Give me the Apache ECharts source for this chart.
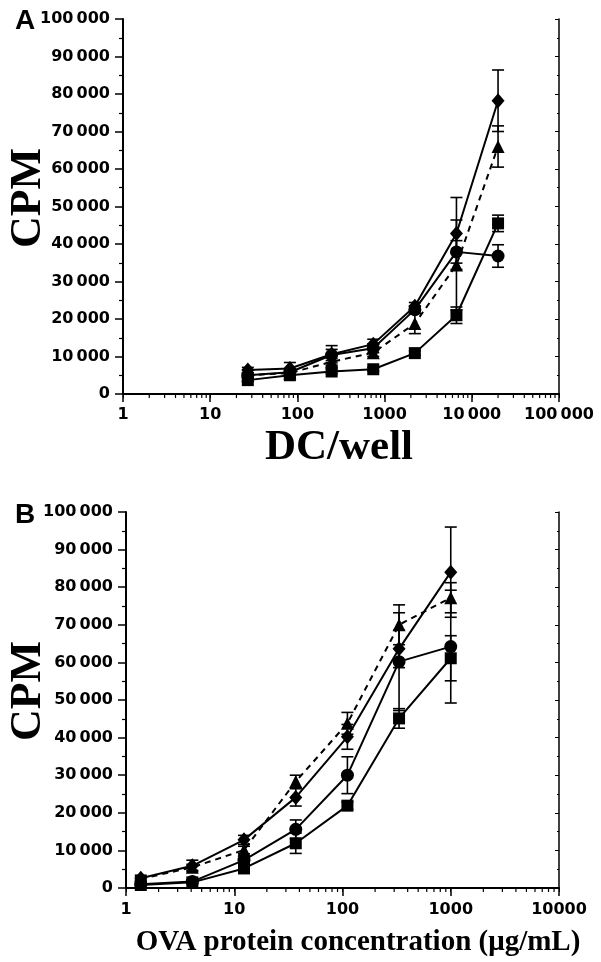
<!DOCTYPE html>
<html><head><meta charset="utf-8">
<script src="https://cdn.jsdelivr.net/npm/echarts@6/dist/echarts.min.js"></script>
<style>html,body{margin:0;padding:0;background:#fff}#c{width:601px;height:962px}</style>
</head><body><div id="c"></div>
<script>
// ---- Panel A data (DC/well) ----
const xA = [27, 82, 247, 741, 2222, 6667, 20000];
const aDiamond = [6400, 6800, 10600, 13300, 23400, 42800, 78200];
const aDiamondErr = [700, 1600, 2300, 1300, 1000, 9600, 8200];
const aTriangle = [5000, 5600, 8600, 11000, 18800, 34400, 66000];
const aTriangleErr = [500, 600, 900, 1000, 2700, 12000, 5500];
const aCircle = [5000, 5800, 10400, 12200, 22500, 37900, 36800];
const aCircleErr = [500, 700, 1500, 1200, 1000, 3000, 3000];
const aSquare = [3700, 5000, 6000, 6600, 10900, 21000, 45500];
const aSquareErr = [400, 500, 600, 500, 600, 2200, 2200];
const xTickLabelsA = ['1', '10', '100', '1000', '10\u2009000', '100\u2009000'];

// ---- Panel B data (OVA protein concentration) ----
const xB = [1.37, 4.1, 12.3, 37, 111, 333, 1000];
const bDiamond = [2600, 5900, 12800, 24100, 40200, 63600, 84000];
const bDiamondErr = [800, 1500, 1200, 2300, 3300, 5000, 12000];
const bTriangle = [2400, 5500, 10100, 28300, 43800, 70000, 77200];
const bTriangleErr = [600, 800, 1000, 1700, 2900, 5300, 4000];
const bCircle = [1000, 1700, 7400, 15600, 30000, 60200, 64200];
const bCircleErr = [400, 500, 800, 2500, 4900, 13000, 15000];
const bSquare = [800, 1500, 5200, 11900, 21900, 45100, 61100];
const bSquareErr = [300, 400, 700, 2700, 1000, 2600, 6000];
const xTickLabelsB = ['1', '10', '100', '1000', '10000'];

const minorA = [2,3,4,5,6,7,8,9,20,30,40,50,60,70,80,90,200,300,400,500,600,700,800,900,2000,3000,4000,5000,6000,7000,8000,9000,20000,30000,40000,50000,60000,70000,80000,90000];
const minorB = [2,3,4,5,6,7,8,9,20,30,40,50,60,70,80,90,200,300,400,500,600,700,800,900,2000,3000,4000,5000,6000,7000,8000,9000];

const FONT = '"DejaVu Sans", Arial, sans-serif';
const SANS = '"Liberation Sans", Arial, sans-serif';
const SERIF = '"Liberation Serif", "Times New Roman", serif';

function fmtY(v) {
  if (v < 10000) return String(v);
  const s = String(v);
  return s.slice(0, s.length - 3) + '\u2009' + s.slice(s.length - 3);
}

function errItem(params, api) {
  const x = api.value(0), lo = api.value(1), hi = api.value(2);
  const pl = api.coord([x, lo]), ph = api.coord([x, hi]);
  const w = 6;
  const st = { stroke: '#000', lineWidth: 1.6 };
  return { type: 'group', children: [
    { type: 'line', shape: { x1: pl[0], y1: pl[1], x2: ph[0], y2: ph[1] }, style: st },
    { type: 'line', shape: { x1: pl[0] - w, y1: pl[1], x2: pl[0] + w, y2: pl[1] }, style: st },
    { type: 'line', shape: { x1: ph[0] - w, y1: ph[1], x2: ph[0] + w, y2: ph[1] }, style: st }
  ]};
}
function minorItem(params, api) {
  const p = api.coord([api.value(0), 0]);
  return { type: 'line', shape: { x1: p[0], y1: p[1], x2: p[0], y2: p[1] + 4 }, style: { stroke: '#000', lineWidth: 1.2 } };
}

function errData(xs, ys, es) { return xs.map((x, i) => [x, ys[i] - es[i], ys[i] + es[i]]); }
function pts(xs, ys) { return xs.map((x, i) => [x, ys[i]]); }

const markers = [
  { symbol: 'diamond', size: [13, 15], dash: 'solid' },
  { symbol: 'triangle', size: [13, 13], dash: [6, 5] },
  { symbol: 'circle', size: 13, dash: 'solid' },
  { symbol: 'rect', size: 12, dash: 'solid' }
];

function panelSeries(gi, xs, sets) {
  const out = [];
  out.push({ type: 'custom', xAxisIndex: gi * 2, yAxisIndex: gi * 2, renderItem: minorItem,
    data: (gi === 0 ? minorA : minorB).map(v => [v]), encode: { x: 0 }, silent: true, z: 3, clip: false });
  sets.forEach((s) => {
    out.push({ type: 'custom', xAxisIndex: gi * 2, yAxisIndex: gi * 2, renderItem: errItem,
      data: errData(xs, s[0], s[1]), encode: { x: 0, y: [1, 2] }, silent: true, z: 4 });
  });
  sets.forEach((s, k) => {
    const m = markers[k];
    out.push({ type: 'line', xAxisIndex: gi * 2, yAxisIndex: gi * 2, data: pts(xs, s[0]),
      symbol: m.symbol, symbolSize: m.size, showSymbol: true,
      lineStyle: { color: '#000', width: 2, type: m.dash },
      itemStyle: { color: '#000', borderWidth: 0 }, z: 5, animation: false });
  });
  return out;
}

function xAxisMain(gi, max, labels, margin) {
  return { type: 'log', logBase: 10, gridIndex: gi, min: 1, max: max, position: 'bottom',
    axisLine: { show: true, lineStyle: { color: '#000', width: 2 } },
    axisTick: { show: true, inside: false, length: 8, lineStyle: { color: '#000', width: 1.5 } },
    axisLabel: { color: '#000', fontFamily: FONT, fontWeight: 'bold', fontSize: 16, margin: margin,
      formatter: v => labels[Math.round(Math.log10(v))] },
    splitLine: { show: false } };
}
function xAxisTop(gi, max) {
  return { type: 'log', logBase: 10, gridIndex: gi, min: 1, max: max, position: 'top',
    axisLine: { show: true, lineStyle: { color: '#000', width: 1.5 } },
    axisTick: { show: true, inside: true, length: 4, lineStyle: { color: '#000', width: 1 } },
    axisLabel: { show: false }, splitLine: { show: false } };
}
function yAxisMain(gi) {
  return { type: 'value', gridIndex: gi, min: 0, max: 100000, interval: 10000, position: 'left',
    axisLine: { show: true, lineStyle: { color: '#000', width: 2 } },
    axisTick: { show: true, inside: false, length: 8, lineStyle: { color: '#000', width: 1.5 } },
    minorTick: { show: true, splitNumber: 2, length: 4, lineStyle: { color: '#000', width: 1.2 } },
    axisLabel: { color: '#000', fontFamily: FONT, fontWeight: 'bold', fontSize: 16, margin: 13,
      formatter: v => fmtY(v) },
    splitLine: { show: false }, minorSplitLine: { show: false } };
}
function yAxisRight(gi) {
  return { type: 'value', gridIndex: gi, min: 0, max: 100000, interval: 10000, position: 'right',
    axisLine: { show: true, lineStyle: { color: '#000', width: 1.5 } },
    axisTick: { show: true, inside: true, length: 4, lineStyle: { color: '#000', width: 1 } },
    minorTick: { show: true, splitNumber: 2, length: 2, lineStyle: { color: '#000', width: 1 } },
    axisLabel: { show: false }, splitLine: { show: false } };
}

const chart = echarts.init(document.getElementById('c'), null, { renderer: 'canvas' });
chart.setOption({
  animation: false,
  backgroundColor: '#fff',
  grid: [
    { left: 123, top: 19, width: 436, height: 375 },
    { left: 126, top: 512, width: 433, height: 376 }
  ],
  xAxis: [xAxisMain(0, 100000, xTickLabelsA, 13), xAxisTop(0, 100000), xAxisMain(1, 10000, xTickLabelsB, 14), xAxisTop(1, 10000)],
  yAxis: [yAxisMain(0), yAxisRight(0), yAxisMain(1), yAxisRight(1)],
  series: [].concat(
    panelSeries(0, xA, [[aDiamond, aDiamondErr], [aTriangle, aTriangleErr], [aCircle, aCircleErr], [aSquare, aSquareErr]]),
    panelSeries(1, xB, [[bDiamond, bDiamondErr], [bTriangle, bTriangleErr], [bCircle, bCircleErr], [bSquare, bSquareErr]])
  ),
  graphic: [
    { type: 'text', x: 15, y: 21, style: { text: 'A', font: 'bold 28px ' + SANS, fill: '#000', textAlign: 'left', textVerticalAlign: 'middle' } },
    { type: 'text', x: 15, y: 515, style: { text: 'B', font: 'bold 28px ' + SANS, fill: '#000', textAlign: 'left', textVerticalAlign: 'middle' } },
    { type: 'text', x: 29, y: 198, rotation: Math.PI / 2, style: { text: 'CPM', font: 'bold 44px ' + SERIF, fill: '#000', textAlign: 'center', textVerticalAlign: 'middle' } },
    { type: 'text', x: 29, y: 691, rotation: Math.PI / 2, style: { text: 'CPM', font: 'bold 44px ' + SERIF, fill: '#000', textAlign: 'center', textVerticalAlign: 'middle' } },
    { type: 'text', x: 339, y: 448, style: { text: 'DC/well', font: 'bold 43px ' + SERIF, fill: '#000', textAlign: 'center', textVerticalAlign: 'middle' } },
    { type: 'text', x: 358, y: 943, style: { text: 'OVA protein concentration (μg/mL)', font: 'bold 29px ' + SERIF, fill: '#000', textAlign: 'center', textVerticalAlign: 'middle' } }
  ]
});
</script></body></html>
